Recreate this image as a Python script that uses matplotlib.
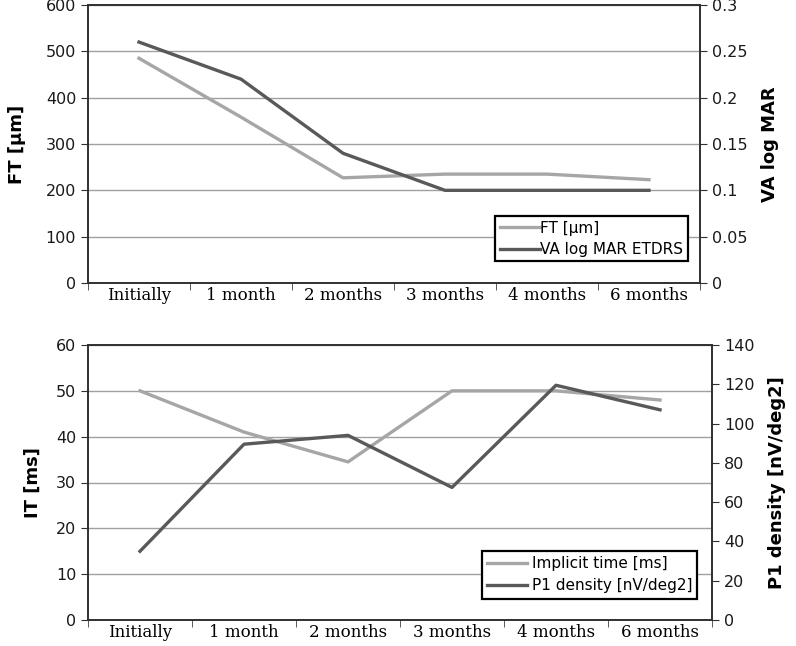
import matplotlib
matplotlib.use("Agg")
import matplotlib.pyplot as plt
from matplotlib.ticker import MultipleLocator, FormatStrFormatter, FixedLocator
import numpy as np

# categories and values
months = ["Initially", "1 month", "2 months", "3 months", "4 months", "6 months"]
ft_um = [485, 358, 227, 235, 235, 223]
va_logmar = [0.26, 0.22, 0.14, 0.10, 0.10, 0.10]
implicit_ms = [50, 41, 34.5, 50, 50, 48]
p1_density = [35, 89.5, 94, 67.5, 119.5, 107]

light = "#a6a6a6"
dark = "#595959"
tick_font = "DejaVu Sans"
cat_font = "DejaVu Serif"
x = np.arange(len(months))


def style_axes(ax, ax2):
    ax.set_xlim(-0.5, len(months) - 0.5)
    ax.set_xticks(x)
    ax.set_xticklabels(months, family=cat_font, fontsize=12)
    ax.xaxis.set_minor_locator(FixedLocator(np.arange(-0.5, len(months), 1.0)))
    ax.tick_params(axis="x", which="major", length=0, pad=3)
    ax.tick_params(axis="x", which="minor", length=5, color="#404040")
    ax.grid(axis="y", color="#a0a0a0", linewidth=1.0)
    ax.set_axisbelow(True)
    for a in (ax, ax2):
        for s in a.spines.values():
            s.set_color("#303030")
            s.set_linewidth(1.2)
        a.tick_params(axis="y", length=5, color="#303030", labelsize=11.5,
                      labelcolor="#1a1a1a")
        for lbl in a.get_yticklabels():
            lbl.set_family(tick_font)


fig = plt.figure(figsize=(7.96, 6.46), dpi=100)

# top chart: foveal thickness and visual acuity
ax = fig.add_axes([88 / 796, 363 / 646, 612 / 796, 278 / 646])
ax2 = ax.twinx()
l1, = ax.plot(x, ft_um, color=light, linewidth=2.4, label="FT [\u00b5m]")
l2, = ax2.plot(x, va_logmar, color=dark, linewidth=2.4, label="VA log MAR ETDRS")
ax.set_ylim(0, 600)
ax.yaxis.set_major_locator(MultipleLocator(100))
ax2.set_ylim(0, 0.3)
ax2.yaxis.set_major_locator(MultipleLocator(0.05))
ax2.yaxis.set_major_formatter(FormatStrFormatter("%g"))
style_axes(ax, ax2)
ax.set_ylabel("FT [\u00b5m]", fontsize=13, fontweight="bold", labelpad=14)
ax2.set_ylabel("VA log MAR", fontsize=13, fontweight="bold", labelpad=10)
leg = ax2.legend(handles=[l1, l2], loc="lower right", bbox_to_anchor=(0.993, 0.05),
                 fontsize=11, fancybox=False, edgecolor="black", framealpha=1,
                 handlelength=2.6, handletextpad=0.05, borderpad=0.3, labelspacing=0.4)
leg.get_frame().set_linewidth(1.6)

# bottom chart: implicit time and P1 density
bx = fig.add_axes([88 / 796, 26 / 646, 624 / 796, 275 / 646])
bx2 = bx.twinx()
m1, = bx.plot(x, implicit_ms, color=light, linewidth=2.4, label="Implicit time [ms]")
m2, = bx2.plot(x, p1_density, color=dark, linewidth=2.4, label="P1 density [nV/deg2]")
bx.set_ylim(0, 60)
bx.yaxis.set_major_locator(MultipleLocator(10))
bx2.set_ylim(0, 140)
bx2.yaxis.set_major_locator(MultipleLocator(20))
style_axes(bx, bx2)
bx.set_ylabel("IT [ms]", fontsize=13, fontweight="bold", labelpad=10)
bx2.set_ylabel("P1 density [nV/deg2]", fontsize=13, fontweight="bold", labelpad=10)
leg2 = bx2.legend(handles=[m1, m2], loc="lower right", bbox_to_anchor=(0.989, 0.05),
                  fontsize=11, fancybox=False, edgecolor="black", framealpha=1,
                  handlelength=2.6, handletextpad=0.3, borderpad=0.35, labelspacing=0.45)
leg2.get_frame().set_linewidth(1.6)

fig.savefig("out.png", dpi=100)
